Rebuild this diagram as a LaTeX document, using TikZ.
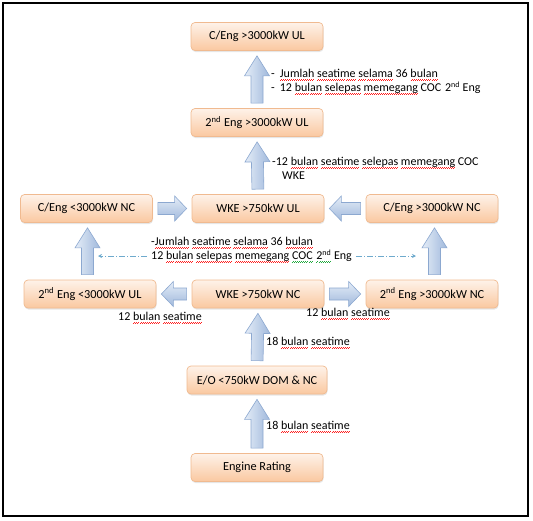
\documentclass[tikz,border=0pt]{standalone}
\usepackage{fontspec}
\setmainfont{Carlito}
\usetikzlibrary{calc,arrows.meta,shadows}
\definecolor{splred}{RGB}{255,30,30}
\definecolor{splgreen}{RGB}{30,170,60}
\definecolor{boxtop}{RGB}{254,242,233}
\definecolor{boxbot}{RGB}{250,200,160}
\definecolor{boxline}{RGB}{240,186,144}
\definecolor{arrdark}{RGB}{160,185,220}
\definecolor{arrlight}{RGB}{228,236,247}
\definecolor{arrline}{RGB}{140,168,208}
\definecolor{dashcol}{RGB}{110,170,205}
\newsavebox\splbox
\newcommand\wavyline[2]{\sbox\splbox{#2}\rlap{\raisebox{-3.2pt}{\color{#1}\hbox to \wd\splbox{\xleaders\hbox to 2pt{\rule{1pt}{0.8pt}\rule[0.8pt]{1pt}{0.8pt}}\hfill}}}\usebox\splbox}
\newcommand\spl[1]{\wavyline{splred}{#1}}
\newcommand\gpl[1]{\wavyline{splgreen}{#1}}
\begin{document}
\begin{tikzpicture}[x=1pt,y=-1pt,
 stage/.style={rectangle, rounded corners=4pt, draw=boxline, line width=0.7pt,
   top color=boxtop, bottom color=boxbot, minimum width=132pt, minimum height=28pt,
   inner sep=2pt, font=\fontsize{12.3pt}{14pt}\selectfont,
   drop shadow={shadow xshift=0.5pt, shadow yshift=-1.5pt, opacity=0.2}},
 note/.style={inner sep=0pt, align=left, font=\fontsize{12pt}{14pt}\selectfont},
 blockarrow/.style={draw=arrline, line width=0.6pt, to path={
   ($(\tikztostart)!5pt!(\tikztotarget)$) coordinate (ba-s)
   ($(\tikztotarget)!5pt!(\tikztostart)$) coordinate (ba-t)
   ($(ba-t)!#1!(ba-s)$) coordinate (ba-h)
   ($(ba-s)!6pt!90:(ba-t)$) -- ($(ba-h)!6pt!90:(ba-t)$) -- ($(ba-h)!12.5pt!90:(ba-t)$)
   -- (ba-t) -- ($(ba-h)!12.5pt!-90:(ba-t)$) -- ($(ba-h)!6pt!-90:(ba-t)$)
   -- ($(ba-s)!6pt!-90:(ba-t)$) -- cycle}},
 uparr/.style={blockarrow=20pt, left color=arrlight, right color=arrdark},
 rarr/.style={blockarrow=12pt, top color=arrlight, bottom color=arrdark},
 larr/.style={blockarrow=12pt, top color=arrlight, bottom color=arrdark},
 dashline/.style={draw=dashcol, line width=0.7pt, dash pattern=on 6pt off 2pt on 1pt off 2pt, -{Stealth[length=4pt,width=4pt]}}
]
\useasboundingbox (0,0) rectangle (533,520);
\draw[line width=1.2pt] (3,3) rectangle (528,516);

\node[stage] (n1) at (257,36.5) {C/Eng >3000kW UL};
\node[stage] (n2) at (257,122.5) {2\textsuperscript{nd} Eng >3000kW UL};
\node[stage] (n3) at (258,208.5) {WKE >750kW UL};
\node[stage] (n4) at (86.5,208.5) {C/Eng <3000kW NC};
\node[stage] (n5) at (432,208.5) {C/Eng >3000kW NC};
\node[stage] (n6) at (90,294) {2\textsuperscript{nd} Eng <3000kW UL};
\node[stage] (n7) at (258,294) {WKE >750kW NC};
\node[stage] (n8) at (432,294) {2\textsuperscript{nd} Eng >3000kW NC};
\node[stage, minimum width=140pt] (n9) at (257,380) {E/O <750kW DOM \& NC};
\node[stage] (n10) at (257,467.5) {Engine Rating};

\path[uparr] (n2.north) to (n1.south);
\path[uparr] (n3.north) to (n2.south);
\path[uparr] (n9.north) to (n7.south);
\path[uparr] (n10.north) to (n9.south);
\path[uparr] ([xshift=-2.5pt]n6.north) to ([xshift=1pt]n4.south);
\path[uparr] ([xshift=2.5pt]n8.north) to ([xshift=2.5pt]n5.south);
\path[rarr] (n4.east) to (n3.west);
\path[larr] (n5.west) to (n3.east);
\path[larr] (n7.west) to (n6.east);
\path[rarr] (n7.east) to (n8.west);

\node[note, anchor=west] (l1) at (271,82) {-\hspace{5pt}\spl{Jumlah} \spl{seatime} \spl{selama} 36 \spl{bulan}\\-\hspace{5pt}12 \spl{bulan} \spl{selepas} \spl{memegang} COC\hspace{1pt} 2\textsuperscript{nd} Eng};
\node[note, anchor=west] (l2) at (272,168) {-12 \spl{bulan} \spl{seatime} \spl{selepas} \spl{memegang} COC\\\hspace{10pt}WKE};
\node[note, anchor=west, inner xsep=4pt] (mid) at (147,250) {-\spl{Jumlah} \spl{seatime} \spl{selama} 36 \spl{bulan}\\12 \spl{bulan} \spl{selepas} \spl{memegang} \gpl{COC}\hspace{1pt} \gpl{2\textsuperscript{nd}} Eng};

\coordinate (dl) at (98,256);
\coordinate (dr) at (416,256);
\draw[dashline] ([yshift=-6pt]mid.west) -- (dl);
\draw[dashline] ([yshift=-6pt]mid.east) -- (dr);

\node[note] (s1) at (160,318) {12 \spl{bulan} \spl{seatime}};
\node[note] (s2) at (348,314) {12 \spl{bulan} \spl{seatime}};
\node[note, anchor=west] (s3) at (266,343) {18 \spl{bulan} \spl{seatime}};
\node[note, anchor=west] (s4) at (266,427) {18 \spl{bulan} \spl{seatime}};
\end{tikzpicture}
\end{document}
